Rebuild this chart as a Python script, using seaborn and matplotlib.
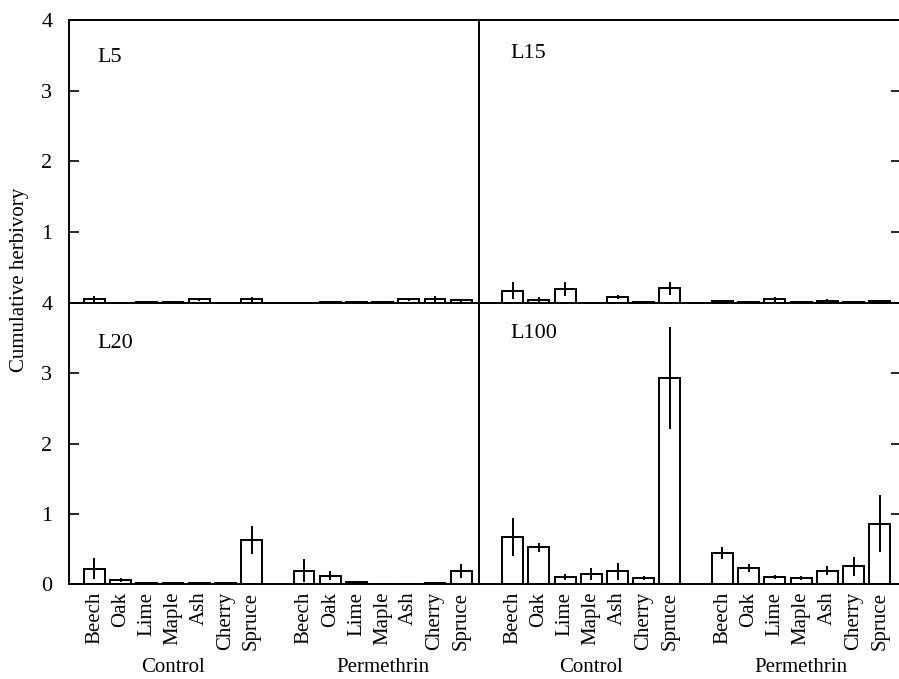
import numpy as np
import pandas as pd
import seaborn as sns
import matplotlib
matplotlib.use("Agg")
import matplotlib.pyplot as plt

# 数据
species = ["Beech", "Oak", "Lime", "Maple", "Ash", "Cherry", "Spruce"]
treatments = ["Control", "Permethrin"]
panels = ["L5", "L15", "L20", "L100"]

# values per panel: control (7) then permethrin (7)
L5_mean = [0.05, 0.0, 0.02, 0.01, 0.05, 0.0, 0.05,
           0.0, 0.02, 0.02, 0.02, 0.05, 0.06, 0.04]
L5_err = [0.05, 0.0, 0.01, 0.01, 0.02, 0.0, 0.035,
          0.0, 0.01, 0.01, 0.01, 0.02, 0.04, 0.02]
L15_mean = [0.17, 0.04, 0.20, 0.0, 0.085, 0.02, 0.21,
            0.03, 0.02, 0.05, 0.02, 0.03, 0.02, 0.03]
L15_err = [0.12, 0.04, 0.10, 0.0, 0.03, 0.01, 0.09,
           0.01, 0.01, 0.03, 0.01, 0.02, 0.01, 0.01]
L20_mean = [0.22, 0.06, 0.01, 0.02, 0.02, 0.02, 0.63,
            0.19, 0.12, 0.03, 0.0, 0.0, 0.02, 0.19]
L20_err = [0.15, 0.03, 0.005, 0.01, 0.01, 0.01, 0.20,
           0.16, 0.07, 0.01, 0.0, 0.0, 0.01, 0.10]
L100_mean = [0.67, 0.52, 0.10, 0.14, 0.18, 0.09, 2.93,
             0.44, 0.23, 0.095, 0.09, 0.19, 0.25, 0.86]
L100_err = [0.27, 0.06, 0.04, 0.09, 0.12, 0.03, 0.73,
            0.09, 0.06, 0.03, 0.03, 0.06, 0.14, 0.40]

means = {"L5": L5_mean, "L15": L15_mean, "L20": L20_mean, "L100": L100_mean}
errs = {"L5": L5_err, "L15": L15_err, "L20": L20_err, "L100": L100_err}

rows = []
for p in panels:
    for i, t in enumerate(treatments):
        for j, s in enumerate(species):
            k = i * len(species) + j
            rows.append({"panel": p, "treatment": t, "species": s,
                         "key": t + "-" + s,
                         "value": means[p][k], "err": errs[p][k]})
df = pd.DataFrame(rows)

# categorical order with one empty slot between treatments
order = ["Control-" + s for s in species] + ["gap"] + \
        ["Permethrin-" + s for s in species]

sns.set_style("white")
plt.rcParams["font.family"] = ["Liberation Serif", "DejaVu Serif"]
plt.rcParams["text.color"] = "black"
plt.rcParams["xtick.color"] = "black"
plt.rcParams["ytick.color"] = "black"
plt.rcParams["axes.labelcolor"] = "black"

W, H = 899, 679
fig = plt.figure(figsize=(W / 100, H / 100), dpi=100)

# axes rectangles in pixels: (left, top, right, bottom)
rects = {
    "L5": (69, 20, 479, 303),
    "L15": (479, 20, 899, 303),
    "L20": (69, 303, 479, 584),
    "L100": (479, 303, 899, 584),
}
xlims = {"L5": (-0.97, 14.68), "L20": (-0.97, 14.68),
         "L15": (-1.28, 14.73), "L100": (-1.28, 14.73)}
label_pos = {"L5": (97, 58), "L15": (510, 54), "L20": (97, 343), "L100": (510, 333)}

for p in panels:
    l, t, r, b = rects[p]
    ax = fig.add_axes([l / W, 1 - b / H, (r - l) / W, (b - t) / H])
    sub = df[df.panel == p]
    sns.barplot(data=sub, x="key", y="value", order=order, ax=ax,
                color="white", edgecolor="black", linewidth=1.4,
                width=0.8, errorbar=None)
    xpos = [order.index(k) for k in sub["key"]]
    ax.errorbar(xpos, sub["value"], yerr=sub["err"], fmt="none",
                ecolor="black", elinewidth=1.4, capsize=0)
    ax.set_xlim(*xlims[p])
    ax.set_ylim(0, 4)
    ax.set_xlabel("")
    ax.set_ylabel("")
    ax.spines["right"].set_visible(False)
    for sp in ["left", "top", "bottom"]:
        ax.spines[sp].set_linewidth(1.4)
        ax.spines[sp].set_color("black")
    ax.set_yticks([0, 1, 2, 3, 4])
    left_col = p in ("L5", "L20")
    if left_col:
        ax.tick_params(axis="y", direction="in", length=7, width=1.2,
                       left=True, right=False, labelsize=16, pad=12)
        if p == "L5":
            ax.set_yticklabels(["", "1", "2", "3", "4"])
    else:
        ax.tick_params(axis="y", direction="in", length=6, width=1.2,
                       left=False, right=True, labelleft=False)
    ax.tick_params(axis="x", bottom=False, top=False)
    if p in ("L20", "L100"):
        ax.set_xticks(range(len(order)))
        ax.set_xticklabels([k.split("-")[1] if k != "gap" else "" for k in order],
                           rotation=90, fontsize=15)
        ax.tick_params(axis="x", pad=2)
        trans = ax.get_xaxis_transform()
        ybot = (b - 677) / (b - t)
        ax.text(3, ybot, "Control", transform=trans,
                ha="center", va="bottom", fontsize=15)
        ax.text(11, ybot, "Permethrin", transform=trans,
                ha="center", va="bottom", fontsize=15)
    else:
        ax.set_xticklabels([])
    lx, ly = label_pos[p]
    fig.text(lx / W, 1 - ly / H, p, ha="left", va="center", fontsize=16)

fig.text(20 / W, 1 - 280 / H, "Cumulative herbivory", rotation=90,
         ha="center", va="center", fontsize=15)

fig.savefig("out.png", dpi=100)
